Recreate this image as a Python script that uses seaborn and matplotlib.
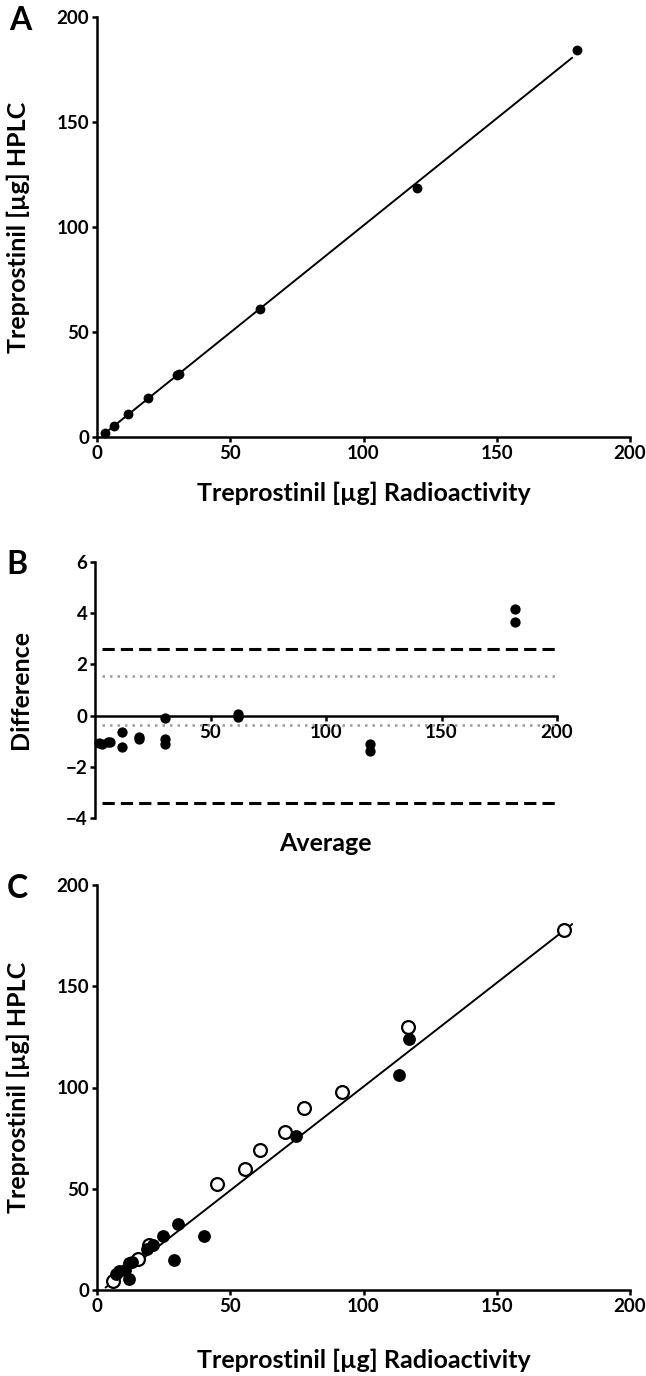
import numpy as np
import pandas as pd
import matplotlib
matplotlib.use("Agg")
import matplotlib.pyplot as plt
import seaborn as sns

# ---------------- data ----------------
# Panel A: Radioactivity vs HPLC
a_radio = [3.1, 6.2, 11.8, 19.3, 30.0, 30.8, 61.3, 120.0, 180.2]
a_hplc = [2.1, 5.2, 11.1, 18.6, 29.6, 29.9, 61.1, 118.6, 184.1]
a_fit_x = [2.0, 178.3]
a_fit_y = [0.8, 180.6]

# Panel B: Bland-Altman
b_avg = [1.9, 2.9, 5.5, 6.5, 11.6, 11.6, 18.9, 19.1, 30.3, 30.5, 30.5, 61.7, 61.8, 119.2, 119.2, 182.0, 182.0]
b_diff = [-1.08, -1.12, -1.05, -1.02, -0.66, -1.24, -0.85, -0.92, -0.10, -0.92, -1.12, 0.06, -0.07, -1.12, -1.40, 4.15, 3.67]
b_limits = [2.62, -3.40]      # dashed lines
b_ci = [1.53, -0.37]          # dotted lines
b_line_x = [3.0, 200.0]

# Panel C
c_open_x = [5.9, 15.5, 19.6, 45.2, 55.7, 61.3, 70.4, 77.8, 92.1, 116.8, 175.3]
c_open_y = [4.5, 15.1, 22.2, 52.3, 59.8, 69.2, 78.2, 90.0, 97.9, 130.0, 177.6]
c_fill_x = [7.1, 8.2, 10.6, 12.1, 11.9, 13.3, 18.6, 20.9, 24.6, 28.8, 30.3, 40.0, 74.7, 113.2, 117.1]
c_fill_y = [7.8, 9.5, 9.8, 5.3, 13.1, 13.9, 20.2, 22.2, 26.6, 14.9, 32.7, 26.9, 76.0, 106.1, 124.1]
c_fit_x = [3.2, 178.3]
c_fit_y = [1.2, 180.7]

xy_ticks = [0, 50, 100, 150, 200]
b_xticks = [50, 100, 150, 200]
b_yticks = [-4, -2, 0, 2, 4, 6]

label_x = "Treprostinil [µg] Radioactivity"
label_y = "Treprostinil [µg] HPLC"

# ---------------- style ----------------
sns.set_theme(style="ticks")
plt.rcParams['font.family'] = ['Lato', 'DejaVu Sans']
plt.rcParams['font.weight'] = 'bold'
plt.rcParams['axes.labelweight'] = 'bold'
plt.rcParams['axes.linewidth'] = 1.8
plt.rcParams['xtick.major.width'] = 1.8
plt.rcParams['ytick.major.width'] = 1.8
plt.rcParams['xtick.major.size'] = 3.5
plt.rcParams['ytick.major.size'] = 3.5
plt.rcParams['xtick.major.pad'] = 2.5
plt.rcParams['ytick.major.pad'] = 2.0
plt.rcParams['xtick.labelsize'] = 13.5
plt.rcParams['ytick.labelsize'] = 13.5
plt.rcParams['xtick.color'] = 'black'
plt.rcParams['ytick.color'] = 'black'
plt.rcParams['axes.edgecolor'] = 'black'
plt.rcParams['text.color'] = 'black'
plt.rcParams['axes.labelcolor'] = 'black'

W, H = 646, 1376
fig = plt.figure(figsize=(W / 100, H / 100), dpi=100)

def frac(left, top, right, bottom):
    return [left / W, 1 - bottom / H, (right - left) / W, (bottom - top) / H]

axA = fig.add_axes(frac(97, 17, 630, 437))
axB = fig.add_axes(frac(95, 562, 557, 818))
axC = fig.add_axes(frac(97, 885, 630, 1290))

LABEL_FS = 18

def style_xy(ax, xlab_y):
    ax.set_xlim(0, 200)
    ax.set_ylim(0, 200)
    ax.set_xticks(xy_ticks)
    ax.set_yticks(xy_ticks)
    sns.despine(ax=ax)
    for t in ax.get_xticklabels() + ax.get_yticklabels():
        t.set_fontweight('bold')
    ax.set_xlabel(label_x, fontsize=LABEL_FS, fontweight='bold')
    ax.set_ylabel(label_y, fontsize=LABEL_FS, fontweight='bold')
    ax.xaxis.label.set_va('center')
    ax.yaxis.label.set_va('center')
    ax.xaxis.set_label_coords(0.5, xlab_y)
    ax.yaxis.set_label_coords(-0.148, 0.5)

# Panel A
sns.lineplot(x=a_fit_x, y=a_fit_y, ax=axA, color='black', linewidth=1.4)
sns.scatterplot(x=a_radio, y=a_hplc, ax=axA, color='black', s=50,
                edgecolor='black', linewidth=0, zorder=3, clip_on=False)
style_xy(axA, -0.133)

# Panel B
for v in b_limits:
    axB.axhline(v, xmin=b_line_x[0] / 200, xmax=1.0, color='black',
                linewidth=2.2, dashes=(4, 2))
for v in b_ci:
    axB.axhline(v, xmin=b_line_x[0] / 200, xmax=1.0, color='#9a9a9a',
                linewidth=1.8, dashes=(1, 2))
sns.scatterplot(x=b_avg, y=b_diff, ax=axB, color='black', s=55,
                edgecolor='black', linewidth=0, zorder=3, clip_on=False)
axB.set_xlim(0, 200)
axB.set_ylim(-4, 6)
axB.set_xticks(b_xticks)
axB.set_yticks(b_yticks)
axB.spines['bottom'].set_position(('data', 0))
axB.spines['top'].set_visible(False)
axB.spines['right'].set_visible(False)
for t in axB.get_xticklabels() + axB.get_yticklabels():
    t.set_fontweight('bold')
axB.set_xlabel("Average", fontsize=LABEL_FS, fontweight='bold')
axB.set_ylabel("Difference", fontsize=LABEL_FS, fontweight='bold')
axB.xaxis.label.set_va('center')
axB.yaxis.label.set_va('center')
axB.xaxis.set_label_coords(0.498, -0.098)
axB.yaxis.set_label_coords(-0.162, 0.5)

# Panel C
sns.lineplot(x=c_fit_x, y=c_fit_y, ax=axC, color='black', linewidth=1.4)
sns.scatterplot(x=c_open_x, y=c_open_y, ax=axC, color='white', s=85,
                edgecolor='black', linewidth=1.6, zorder=3, clip_on=False)
sns.scatterplot(x=c_fill_x, y=c_fill_y, ax=axC, color='black', s=85,
                edgecolor='black', linewidth=0, zorder=4, clip_on=False)
style_xy(axC, -0.173)

# panel letters
for letter, (px, py) in zip("ABC", [(20, 20), (17, 565), (17, 888)]):
    fig.text(px / W, 1 - py / H, letter, fontsize=23, fontweight='bold',
             ha='center', va='center')

fig.savefig("out.png", dpi=100)
